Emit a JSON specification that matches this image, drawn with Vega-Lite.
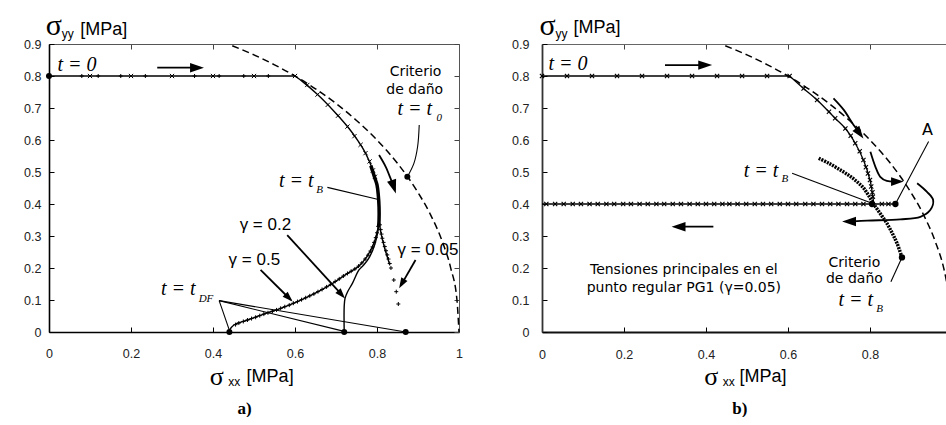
{
  "$schema": "https://vega.github.io/schema/vega-lite/v6.json",
  "background": "white",
  "padding": {"left": 23, "top": 11, "right": 0, "bottom": 0},
  "spacing": 83,
  "bounds": "flush",
  "config": {"view": {"stroke": null}, "axis": {"grid": false, "title": null}},
  "datasets": {
    "a_circle": [{"x":0.447,"y":0.8945},{"x":0.5,"y":0.866},{"x":0.55,"y":0.835},{"x":0.6,"y":0.8},{"x":0.65,"y":0.76},{"x":0.7,"y":0.714},{"x":0.75,"y":0.661},{"x":0.8,"y":0.6},{"x":0.85,"y":0.527},{"x":0.9,"y":0.436},{"x":0.93,"y":0.368},{"x":0.96,"y":0.28},{"x":0.98,"y":0.199},{"x":0.995,"y":0.1},{"x":1.0,"y":0.0}],
    "a_path": [
      {"g":"h","x":0,"y":0.8},{"g":"h","x":0.6,"y":0.8},
      {"g":"top","x":0.6,"y":0.8},{"g":"top","x":0.62,"y":0.781},{"g":"top","x":0.655,"y":0.742},{"g":"top","x":0.695,"y":0.69},{"g":"top","x":0.728,"y":0.642},{"g":"top","x":0.755,"y":0.595},{"g":"top","x":0.772,"y":0.559},{"g":"top","x":0.79,"y":0.505},{"g":"top","x":0.8,"y":0.46},{"g":"top","x":0.804,"y":0.41},{"g":"top","x":0.805,"y":0.35},
      {"g":"g02","x":0.805,"y":0.35},{"g":"g02","x":0.803,"y":0.32},{"g":"g02","x":0.795,"y":0.275},{"g":"g02","x":0.782,"y":0.235},{"g":"g02","x":0.768,"y":0.21},{"g":"g02","x":0.756,"y":0.194},{"g":"g02","x":0.74,"y":0.152},{"g":"g02","x":0.728,"y":0.125},{"g":"g02","x":0.722,"y":0.105},{"g":"g02","x":0.72,"y":0.08},{"g":"g02","x":0.72,"y":0.0},
      {"g":"g05","x":0.805,"y":0.35},{"g":"g05","x":0.8,"y":0.31},{"g":"g05","x":0.79,"y":0.27},{"g":"g05","x":0.775,"y":0.235},{"g":"g05","x":0.755,"y":0.205},{"g":"g05","x":0.728,"y":0.183},{"g":"g05","x":0.687,"y":0.148},{"g":"g05","x":0.646,"y":0.119},{"g":"g05","x":0.606,"y":0.095},{"g":"g05","x":0.565,"y":0.074},{"g":"g05","x":0.524,"y":0.056},{"g":"g05","x":0.484,"y":0.0375},{"g":"g05","x":0.451,"y":0.022},{"g":"g05","x":0.44,"y":0.006},
      {"g":"g005","x":0.805,"y":0.35},{"g":"g005","x":0.808,"y":0.32},{"g":"g005","x":0.813,"y":0.29},{"g":"g005","x":0.819,"y":0.26},{"g":"g005","x":0.825,"y":0.235},{"g":"g005","x":0.831,"y":0.21}
    ],
    "a_thick": [{"x":0.785,"y":0.52},{"x":0.795,"y":0.48},{"x":0.8,"y":0.46},{"x":0.803,"y":0.43},{"x":0.805,"y":0.39},{"x":0.805,"y":0.35},{"x":0.804,"y":0.33}],
    "a_xmk": [{"x":0.1,"y":0.8},{"x":0.2,"y":0.8},{"x":0.3,"y":0.8},{"x":0.4,"y":0.8},{"x":0.5,"y":0.8},{"x":0.6,"y":0.8},{"x":0.63,"y":0.772},{"x":0.655,"y":0.742},{"x":0.68,"y":0.71},{"x":0.705,"y":0.676},{"x":0.728,"y":0.642},{"x":0.745,"y":0.612},{"x":0.76,"y":0.585},{"x":0.772,"y":0.559},{"x":0.782,"y":0.533},{"x":0.79,"y":0.505},{"x":0.795,"y":0.485}],
    "a_pmk": [{"x":0.08,"y":0.8},{"x":0.12,"y":0.8},{"x":0.175,"y":0.8},{"x":0.235,"y":0.8},{"x":0.355,"y":0.8},{"x":0.415,"y":0.8},{"x":0.475,"y":0.8},{"x":0.535,"y":0.8},
      {"x":0.807,"y":0.335},{"x":0.809,"y":0.32},{"x":0.811,"y":0.306},{"x":0.813,"y":0.293},{"x":0.816,"y":0.28},{"x":0.819,"y":0.267},{"x":0.822,"y":0.254},{"x":0.825,"y":0.241},{"x":0.828,"y":0.228},{"x":0.831,"y":0.214},{"x":0.834,"y":0.2},{"x":0.841,"y":0.1625},{"x":0.847,"y":0.126},{"x":0.852,"y":0.0875},
      {"x":0.803,"y":0.33},{"x":0.8,"y":0.31},{"x":0.797,"y":0.295},{"x":0.793,"y":0.28},{"x":0.789,"y":0.266},{"x":0.784,"y":0.253},{"x":0.778,"y":0.24},{"x":0.771,"y":0.228},{"x":0.763,"y":0.216},{"x":0.755,"y":0.206},{"x":0.746,"y":0.197},{"x":0.737,"y":0.19},{"x":0.728,"y":0.183},{"x":0.718,"y":0.175},{"x":0.708,"y":0.166},{"x":0.698,"y":0.158},{"x":0.687,"y":0.149},{"x":0.677,"y":0.141},{"x":0.666,"y":0.133},{"x":0.656,"y":0.126},{"x":0.646,"y":0.119},{"x":0.636,"y":0.113},{"x":0.626,"y":0.107},{"x":0.616,"y":0.101},{"x":0.606,"y":0.095},{"x":0.596,"y":0.09},{"x":0.586,"y":0.084},{"x":0.575,"y":0.079},{"x":0.565,"y":0.074},{"x":0.555,"y":0.069},{"x":0.545,"y":0.065},{"x":0.534,"y":0.06},{"x":0.524,"y":0.056},{"x":0.514,"y":0.051},{"x":0.504,"y":0.046},{"x":0.494,"y":0.042},{"x":0.484,"y":0.0375},{"x":0.474,"y":0.033},{"x":0.463,"y":0.028},{"x":0.455,"y":0.023}],
    "a_dots": [{"x":0,"y":0.8},{"x":0.44,"y":0.0},{"x":0.72,"y":0.0},{"x":0.87,"y":0.0},{"x":0.874,"y":0.485}],
    "a_lead": [
      {"g":"df1","x":0.415,"y":0.098},{"g":"df1","x":0.44,"y":0.005},
      {"g":"df2","x":0.415,"y":0.098},{"g":"df2","x":0.72,"y":0.002},
      {"g":"df3","x":0.415,"y":0.098},{"g":"df3","x":0.87,"y":0.0},
      {"g":"tb","x":0.679,"y":0.452},{"g":"tb","x":0.801,"y":0.415},
      {"g":"crit","x":0.903,"y":0.647},{"g":"crit","x":0.899,"y":0.579},{"g":"crit","x":0.89,"y":0.527},{"g":"crit","x":0.874,"y":0.485}
    ],
    "a_arrow": [
      {"g":"top","x":0.264,"y":0.826},{"g":"top","x":0.36,"y":0.826},
      {"g":"curv","x":0.805,"y":0.553},{"g":"curv","x":0.821,"y":0.517},{"g":"curv","x":0.833,"y":0.48},{"g":"curv","x":0.843,"y":0.445},
      {"g":"g02","x":0.581,"y":0.303},{"g":"g02","x":0.715,"y":0.115},
      {"g":"g05","x":0.516,"y":0.194},{"g":"g05","x":0.59,"y":0.1},
      {"g":"g005","x":0.894,"y":0.225},{"g":"g005","x":0.858,"y":0.145}
    ],
    "a_heads": [{"n":"top","x":0.378,"y":0.826},{"n":"curv","x":0.846,"y":0.433},{"n":"g02","x":0.722,"y":0.105},{"n":"g05","x":0.594,"y":0.095},{"n":"g005","x":0.854,"y":0.137}],
    "a_text": [
      {"role":"math","t":"t = 0","x":0.0205,"y":0.8146},
      {"role":"math","t":"t = t","x":0.561,"y":0.452},
      {"role":"math","t":"t = t","x":0.85,"y":0.678},
      {"role":"math","t":"t = t","x":0.273,"y":0.1156},
      {"role":"sub","t":"B","x":0.652,"y":0.435},
      {"role":"sub","t":"0","x":0.945,"y":0.66},
      {"role":"sub","t":"DF","x":0.365,"y":0.095},
      {"role":"note","t":"Criterio","x":0.894,"y":0.8},
      {"role":"note","t":"de daño","x":0.892,"y":0.743},
      {"role":"gamma","t":"γ = 0.2","x":0.465,"y":0.319},
      {"role":"gamma","t":"γ = 0.5","x":0.438,"y":0.209},
      {"role":"gamma","t":"γ = 0.05","x":0.85,"y":0.24},
      {"role":"sigma","t":"σ","x":-0.008,"y":0.928},
      {"role":"sigx","t":"σ","x":0.392,"y":-0.165},
      {"role":"idx","t":"yy","x":0.031,"y":0.92},
      {"role":"idx","t":"xx","x":0.437,"y":-0.169},
      {"role":"unit","t":"[MPa]","x":0.482,"y":-0.156},
      {"role":"unit","t":"[MPa]","x":0.076,"y":0.927},
      {"role":"cap","t":"a)","x":0.46,"y":-0.255}
    ],
    "b_circle": [{"x":0.447,"y":0.8945},{"x":0.5,"y":0.866},{"x":0.55,"y":0.835},{"x":0.6,"y":0.8},{"x":0.65,"y":0.76},{"x":0.7,"y":0.714},{"x":0.75,"y":0.661},{"x":0.8,"y":0.6},{"x":0.85,"y":0.527},{"x":0.9,"y":0.436},{"x":0.93,"y":0.368},{"x":0.96,"y":0.28},{"x":0.98,"y":0.199},{"x":0.995,"y":0.1}],
    "b_path": [
      {"g":"h8","x":0,"y":0.8},{"g":"h8","x":0.604,"y":0.8},
      {"g":"top","x":0.604,"y":0.8},{"g":"top","x":0.638,"y":0.761},{"g":"top","x":0.671,"y":0.725},{"g":"top","x":0.715,"y":0.668},{"g":"top","x":0.74,"y":0.636},{"g":"top","x":0.764,"y":0.59},{"g":"top","x":0.784,"y":0.5375},{"g":"top","x":0.8,"y":0.475},{"g":"top","x":0.807,"y":0.423},{"g":"top","x":0.809,"y":0.4},
      {"g":"h","x":0,"y":0.4},{"g":"h","x":0.862,"y":0.4}
    ],
    "b_dotted": [{"x":0.675,"y":0.543},{"x":0.7,"y":0.527},{"x":0.728,"y":0.506},{"x":0.75,"y":0.488},{"x":0.768,"y":0.47},{"x":0.783,"y":0.452},{"x":0.795,"y":0.43},{"x":0.809,"y":0.4},{"x":0.825,"y":0.37},{"x":0.841,"y":0.34},{"x":0.855,"y":0.307},{"x":0.866,"y":0.277},{"x":0.878,"y":0.233}],
    "b_xmk": [{"x":0.0,"y":0.8},{"x":0.061,"y":0.8},{"x":0.122,"y":0.8},{"x":0.183,"y":0.8},{"x":0.244,"y":0.8},{"x":0.305,"y":0.8},{"x":0.366,"y":0.8},{"x":0.427,"y":0.8},{"x":0.488,"y":0.8},{"x":0.549,"y":0.8},{"x":0.604,"y":0.8},
      {"x":0.638,"y":0.761},{"x":0.671,"y":0.725},{"x":0.7,"y":0.688},{"x":0.715,"y":0.668},{"x":0.74,"y":0.636},{"x":0.753,"y":0.613},{"x":0.764,"y":0.59},{"x":0.775,"y":0.565},{"x":0.784,"y":0.5375},{"x":0.79,"y":0.515},{"x":0.795,"y":0.495},{"x":0.8,"y":0.475},{"x":0.803,"y":0.455},{"x":0.806,"y":0.437},{"x":0.807,"y":0.423},
      {"x":0.0105,"y":0.4},{"x":0.032,"y":0.4},{"x":0.053,"y":0.4},{"x":0.075,"y":0.4},{"x":0.095,"y":0.4},{"x":0.116,"y":0.4},{"x":0.136,"y":0.4},{"x":0.157,"y":0.4},{"x":0.176,"y":0.4},{"x":0.198,"y":0.4},{"x":0.217,"y":0.4},{"x":0.238,"y":0.4},{"x":0.258,"y":0.4},{"x":0.279,"y":0.4},{"x":0.298,"y":0.4},{"x":0.319,"y":0.4},{"x":0.339,"y":0.4},{"x":0.36,"y":0.4},{"x":0.38,"y":0.4},{"x":0.4,"y":0.4},{"x":0.42,"y":0.4},{"x":0.44,"y":0.4},{"x":0.457,"y":0.4},{"x":0.477,"y":0.4},{"x":0.498,"y":0.4},{"x":0.519,"y":0.4},{"x":0.539,"y":0.4},{"x":0.559,"y":0.4},{"x":0.58,"y":0.4},{"x":0.6,"y":0.4},{"x":0.62,"y":0.4},{"x":0.642,"y":0.4},{"x":0.662,"y":0.4},{"x":0.683,"y":0.4},{"x":0.703,"y":0.4},{"x":0.723,"y":0.4},{"x":0.744,"y":0.4},{"x":0.764,"y":0.4},{"x":0.784,"y":0.4},{"x":0.829,"y":0.4},{"x":0.845,"y":0.4}],
    "b_dots": [{"x":0.805,"y":0.4},{"x":0.862,"y":0.4},{"x":0.878,"y":0.233}],
    "b_lead": [
      {"g":"tb","x":0.61,"y":0.496},{"g":"tb","x":0.805,"y":0.402},
      {"g":"A","x":0.943,"y":0.595},{"g":"A","x":0.862,"y":0.4},
      {"g":"crit","x":0.851,"y":0.157},{"g":"crit","x":0.878,"y":0.233}
    ],
    "b_arrow": [
      {"g":"top","x":0.3,"y":0.834},{"g":"top","x":0.4,"y":0.834},
      {"g":"left","x":0.418,"y":0.329},{"g":"left","x":0.33,"y":0.329},
      {"g":"c1","x":0.711,"y":0.73},{"g":"c1","x":0.736,"y":0.694},{"g":"c1","x":0.76,"y":0.647},{"g":"c1","x":0.775,"y":0.622},
      {"g":"c2","x":0.801,"y":0.563},{"g":"c2","x":0.813,"y":0.517},{"g":"c2","x":0.825,"y":0.485},{"g":"c2","x":0.841,"y":0.472},{"g":"c2","x":0.87,"y":0.47},
      {"g":"big","x":0.915,"y":0.465},{"g":"big","x":0.939,"y":0.438},{"g":"big","x":0.954,"y":0.4125},{"g":"big","x":0.947,"y":0.381},{"g":"big","x":0.923,"y":0.36},{"g":"big","x":0.874,"y":0.352},{"g":"big","x":0.793,"y":0.348},{"g":"big","x":0.75,"y":0.345}
    ],
    "b_heads": [{"n":"top","x":0.415,"y":0.834},{"n":"left","x":0.316,"y":0.329},{"n":"c1","x":0.784,"y":0.605},{"n":"c2","x":0.882,"y":0.47},{"n":"big","x":0.732,"y":0.345}],
    "b_text": [
      {"role":"math","t":"t = 0","x":0.016,"y":0.819},
      {"role":"math","t":"t = t","x":0.492,"y":0.485},
      {"role":"math","t":"t = t","x":0.723,"y":0.081},
      {"role":"sub","t":"B","x":0.584,"y":0.47},
      {"role":"sub","t":"B","x":0.815,"y":0.0625},
      {"role":"note","t":"Criterio","x":0.762,"y":0.202},
      {"role":"note","t":"de daño","x":0.762,"y":0.152},
      {"role":"note","t":"Tensiones principales en el","x":0.346,"y":0.181},
      {"role":"note","t":"punto regular PG1 (γ=0.05)","x":0.346,"y":0.126},
      {"role":"A","t":"A","x":0.927,"y":0.6156},
      {"role":"sigma","t":"σ","x":-0.006,"y":0.928},
      {"role":"sigx","t":"σ","x":0.396,"y":-0.166},
      {"role":"idx","t":"yy","x":0.033,"y":0.92},
      {"role":"idx","t":"xx","x":0.441,"y":-0.17},
      {"role":"unit","t":"[MPa]","x":0.077,"y":0.933},
      {"role":"unit","t":"[MPa]","x":0.482,"y":-0.157},
      {"role":"cap","t":"b)","x":0.464,"y":-0.255}
    ]
  },
  "hconcat": [
    {
      "width": 410,
      "height": 288,
      "resolve": {"axis": {"x": "independent", "y": "independent"}},
      "encoding": {
        "x": {"field": "x", "type": "quantitative", "scale": {"domain": [0, 1]}, "axis": null},
        "y": {"field": "y", "type": "quantitative", "scale": {"domain": [0, 0.9]}, "axis": null}
      },
      "layer": [
        {"data": {"name": "a_dots"}, "mark": {"type": "point", "opacity": 0},
         "encoding": {
           "x": {"field": "x", "type": "quantitative", "scale": {"domain": [0, 1]}, "axis": {"orient": "bottom", "values": [0, 0.2, 0.4, 0.6, 0.8, 1], "format": "~g", "tickSize": -5, "tickColor": "#000", "labelPadding": 20, "domainColor": "#000", "domainWidth": 1.6, "labelFont": "Liberation Sans", "labelFontSize": 12.5, "labelColor": "#222", "labelFlush": false, "labelOverlap": false}},
           "y": {"field": "y", "type": "quantitative", "scale": {"domain": [0, 0.9]}, "axis": {"orient": "left", "values": [0, 0.1, 0.2, 0.3, 0.4, 0.5, 0.6, 0.7, 0.8, 0.9], "format": "~g", "tickSize": -5, "tickColor": "#000", "labelPadding": 13, "domainColor": "#000", "domainWidth": 1.6, "labelFont": "Liberation Sans", "labelFontSize": 12.5, "labelColor": "#222", "labelFlush": false, "labelOverlap": false}}
         }},
        {"data": {"name": "a_dots"}, "mark": {"type": "point", "opacity": 0},
         "encoding": {
           "x": {"field": "x", "type": "quantitative", "scale": {"domain": [0, 1]}, "axis": {"orient": "top", "values": [0, 0.2, 0.4, 0.6, 0.8, 1], "labels": false, "tickSize": -5, "tickColor": "#444", "domainColor": "#555", "domainWidth": 1}},
           "y": {"field": "y", "type": "quantitative", "scale": {"domain": [0, 0.9]}, "axis": {"orient": "right", "values": [0, 0.1, 0.2, 0.3, 0.4, 0.5, 0.6, 0.7, 0.8, 0.9], "labels": false, "tickSize": -5, "tickColor": "#444", "domainColor": "#555", "domainWidth": 1}}
         }},
        {"data": {"name": "a_circle"}, "mark": {"type": "line", "color": "#000", "strokeWidth": 1.5, "strokeDash": [7, 4], "interpolate": "monotone"}, "encoding": {"order": {"value": null}}},
        {"data": {"name": "a_path"}, "mark": {"type": "line", "color": "#000", "strokeWidth": 1.4, "interpolate": "catmull-rom"}, "encoding": {"detail": {"field": "g"}, "order": {"value": null}}},
        {"data": {"name": "a_thick"}, "mark": {"type": "line", "color": "#000", "strokeWidth": 3.5, "interpolate": "catmull-rom"}, "encoding": {"order": {"value": null}}},
        {"data": {"name": "a_xmk"}, "mark": {"type": "point", "shape": "M-1,-1L1,1M-1,1L1,-1", "filled": false, "stroke": "#000", "strokeWidth": 1, "size": 18, "opacity": 1}},
        {"data": {"name": "a_pmk"}, "mark": {"type": "point", "shape": "M-1,0L1,0M0,-1L0,1", "filled": false, "stroke": "#000", "strokeWidth": 1, "size": 16, "opacity": 1}},
        {"data": {"name": "a_lead"}, "mark": {"type": "line", "color": "#000", "strokeWidth": 1.1, "interpolate": "catmull-rom"}, "encoding": {"detail": {"field": "g"}, "order": {"value": null}}},
        {"data": {"name": "a_arrow"}, "mark": {"type": "line", "color": "#000", "strokeWidth": 1.8, "interpolate": "catmull-rom"}, "encoding": {"detail": {"field": "g"}, "order": {"value": null}}},
        {"data": {"name": "a_heads"}, "transform": [{"filter": "datum.n === 'top'"}], "mark": {"type": "point", "shape": "M0,0L-0.75,2.2L0.75,2.2Z", "filled": true, "color": "#000", "opacity": 1, "size": 160, "angle": 90}},
        {"data": {"name": "a_heads"}, "transform": [{"filter": "datum.n === 'curv'"}], "mark": {"type": "point", "shape": "M0,0L-0.75,2.2L0.75,2.2Z", "filled": true, "color": "#000", "opacity": 1, "size": 160, "angle": 162}},
        {"data": {"name": "a_heads"}, "transform": [{"filter": "datum.n === 'g02'"}], "mark": {"type": "point", "shape": "M0,0L-0.75,2.2L0.75,2.2Z", "filled": true, "color": "#000", "opacity": 1, "size": 90, "angle": 138}},
        {"data": {"name": "a_heads"}, "transform": [{"filter": "datum.n === 'g05'"}], "mark": {"type": "point", "shape": "M0,0L-0.75,2.2L0.75,2.2Z", "filled": true, "color": "#000", "opacity": 1, "size": 90, "angle": 135}},
        {"data": {"name": "a_heads"}, "transform": [{"filter": "datum.n === 'g005'"}], "mark": {"type": "point", "shape": "M0,0L-0.75,2.2L0.75,2.2Z", "filled": true, "color": "#000", "opacity": 1, "size": 90, "angle": 210}},
        {"data": {"name": "a_dots"}, "mark": {"type": "point", "shape": "circle", "filled": true, "color": "#000", "opacity": 1, "size": 36}},
        {"data": {"name": "a_text"}, "transform": [{"filter": "datum.role === 'math'"}], "mark": {"type": "text", "font": "Liberation Serif", "fontStyle": "italic", "fontSize": 20, "align": "left", "baseline": "alphabetic", "color": "#000"}, "encoding": {"text": {"field": "t"}}},
        {"data": {"name": "a_text"}, "transform": [{"filter": "datum.role === 'sub'"}], "mark": {"type": "text", "font": "Liberation Serif", "fontStyle": "italic", "fontSize": 11, "align": "left", "baseline": "alphabetic", "color": "#000"}, "encoding": {"text": {"field": "t"}}},
        {"data": {"name": "a_text"}, "transform": [{"filter": "datum.role === 'note'"}], "mark": {"type": "text", "font": "DejaVu Sans", "fontSize": 14, "align": "center", "baseline": "alphabetic", "color": "#000"}, "encoding": {"text": {"field": "t"}}},
        {"data": {"name": "a_text"}, "transform": [{"filter": "datum.role === 'gamma'"}], "mark": {"type": "text", "font": "Liberation Sans", "fontSize": 17, "align": "left", "baseline": "alphabetic", "color": "#000"}, "encoding": {"text": {"field": "t"}}},
        {"data": {"name": "a_text"}, "transform": [{"filter": "datum.role === 'sigma'"}], "mark": {"type": "text", "font": "Liberation Serif", "fontSize": 30, "align": "left", "baseline": "alphabetic", "color": "#000"}, "encoding": {"text": {"field": "t"}}},
        {"data": {"name": "a_text"}, "transform": [{"filter": "datum.role === 'sigx'"}], "mark": {"type": "text", "font": "Liberation Serif", "fontSize": 26, "align": "left", "baseline": "alphabetic", "color": "#000"}, "encoding": {"text": {"field": "t"}}},
        {"data": {"name": "a_text"}, "transform": [{"filter": "datum.role === 'idx'"}], "mark": {"type": "text", "font": "Liberation Sans", "fontSize": 12, "align": "left", "baseline": "alphabetic", "color": "#000"}, "encoding": {"text": {"field": "t"}}},
        {"data": {"name": "a_text"}, "transform": [{"filter": "datum.role === 'unit'"}], "mark": {"type": "text", "font": "Liberation Sans", "fontSize": 18, "align": "left", "baseline": "alphabetic", "color": "#000"}, "encoding": {"text": {"field": "t"}}},
        {"data": {"name": "a_text"}, "transform": [{"filter": "datum.role === 'cap'"}], "mark": {"type": "text", "font": "Liberation Serif", "fontWeight": "bold", "fontSize": 17, "align": "left", "baseline": "alphabetic", "color": "#000"}, "encoding": {"text": {"field": "t"}}}
      ]
    },
    {
      "width": 404,
      "height": 288,
      "resolve": {"axis": {"x": "independent", "y": "independent"}},
      "encoding": {
        "x": {"field": "x", "type": "quantitative", "scale": {"domain": [0, 0.9854]}, "axis": null},
        "y": {"field": "y", "type": "quantitative", "scale": {"domain": [0, 0.9]}, "axis": null}
      },
      "layer": [
        {"data": {"name": "b_dots"}, "mark": {"type": "point", "opacity": 0},
         "encoding": {
           "x": {"field": "x", "type": "quantitative", "scale": {"domain": [0, 0.9854]}, "axis": {"orient": "bottom", "values": [0, 0.2, 0.4, 0.6, 0.8], "format": "~g", "tickSize": -5, "tickColor": "#000", "labelPadding": 21, "domainColor": "#111", "domainWidth": 1.8, "labelFont": "Liberation Sans", "labelFontSize": 12.5, "labelColor": "#222", "labelFlush": false, "labelOverlap": false}},
           "y": {"field": "y", "type": "quantitative", "scale": {"domain": [0, 0.9]}, "axis": {"orient": "left", "values": [0, 0.1, 0.2, 0.3, 0.4, 0.5, 0.6, 0.7, 0.8, 0.9], "format": "~g", "tickSize": -5, "tickColor": "#000", "labelPadding": 18, "domainColor": "#333", "domainWidth": 1.8, "labelFont": "Liberation Sans", "labelFontSize": 12.5, "labelColor": "#222", "labelFlush": false, "labelOverlap": false}}
         }},
        {"data": {"name": "b_dots"}, "mark": {"type": "point", "opacity": 0},
         "encoding": {
           "x": {"field": "x", "type": "quantitative", "scale": {"domain": [0, 0.9854]}, "axis": {"orient": "top", "values": [0, 0.2, 0.4, 0.6, 0.8], "labels": false, "tickSize": -5, "tickColor": "#444", "domainColor": "#666", "domainWidth": 1}},
           "y": {"field": "y", "type": "quantitative", "scale": {"domain": [0, 0.9]}, "axis": null}
         }},
        {"data": {"name": "b_circle"}, "mark": {"type": "line", "color": "#000", "strokeWidth": 1.5, "strokeDash": [7, 4], "interpolate": "monotone", "clip": true}, "encoding": {"order": {"value": null}}},
        {"data": {"name": "b_path"}, "mark": {"type": "line", "color": "#000", "strokeWidth": 1.3, "interpolate": "catmull-rom"}, "encoding": {"detail": {"field": "g"}, "order": {"value": null}}},
        {"data": {"name": "b_dotted"}, "mark": {"type": "line", "color": "#000", "strokeWidth": 3.5, "strokeDash": [2, 1], "interpolate": "catmull-rom"}, "encoding": {"order": {"value": null}}},
        {"data": {"name": "b_xmk"}, "mark": {"type": "point", "shape": "M-1,-1L1,1M-1,1L1,-1", "filled": false, "stroke": "#000", "strokeWidth": 1.1, "size": 18, "opacity": 1}},
        {"data": {"name": "b_lead"}, "mark": {"type": "line", "color": "#000", "strokeWidth": 1.1}, "encoding": {"detail": {"field": "g"}, "order": {"value": null}}},
        {"data": {"name": "b_arrow"}, "mark": {"type": "line", "color": "#000", "strokeWidth": 1.8, "interpolate": "catmull-rom"}, "encoding": {"detail": {"field": "g"}, "order": {"value": null}}},
        {"data": {"name": "b_heads"}, "transform": [{"filter": "datum.n === 'top'"}], "mark": {"type": "point", "shape": "M0,0L-0.75,2.2L0.75,2.2Z", "filled": true, "color": "#000", "opacity": 1, "size": 160, "angle": 90}},
        {"data": {"name": "b_heads"}, "transform": [{"filter": "datum.n === 'left'"}], "mark": {"type": "point", "shape": "M0,0L-0.75,2.2L0.75,2.2Z", "filled": true, "color": "#000", "opacity": 1, "size": 160, "angle": 270}},
        {"data": {"name": "b_heads"}, "transform": [{"filter": "datum.n === 'c1'"}], "mark": {"type": "point", "shape": "M0,0L-0.75,2.2L0.75,2.2Z", "filled": true, "color": "#000", "opacity": 1, "size": 130, "angle": 143}},
        {"data": {"name": "b_heads"}, "transform": [{"filter": "datum.n === 'c2'"}], "mark": {"type": "point", "shape": "M0,0L-0.75,2.2L0.75,2.2Z", "filled": true, "color": "#000", "opacity": 1, "size": 130, "angle": 90}},
        {"data": {"name": "b_heads"}, "transform": [{"filter": "datum.n === 'big'"}], "mark": {"type": "point", "shape": "M0,0L-0.75,2.2L0.75,2.2Z", "filled": true, "color": "#000", "opacity": 1, "size": 160, "angle": 270}},
        {"data": {"name": "b_dots"}, "mark": {"type": "point", "shape": "circle", "filled": true, "color": "#000", "opacity": 1, "size": 40}},
        {"data": {"name": "b_text"}, "transform": [{"filter": "datum.role === 'math'"}], "mark": {"type": "text", "font": "Liberation Serif", "fontStyle": "italic", "fontSize": 20, "align": "left", "baseline": "alphabetic", "color": "#000"}, "encoding": {"text": {"field": "t"}}},
        {"data": {"name": "b_text"}, "transform": [{"filter": "datum.role === 'sub'"}], "mark": {"type": "text", "font": "Liberation Serif", "fontStyle": "italic", "fontSize": 11, "align": "left", "baseline": "alphabetic", "color": "#000"}, "encoding": {"text": {"field": "t"}}},
        {"data": {"name": "b_text"}, "transform": [{"filter": "datum.role === 'note'"}], "mark": {"type": "text", "font": "DejaVu Sans", "fontSize": 14, "align": "center", "baseline": "alphabetic", "color": "#000"}, "encoding": {"text": {"field": "t"}}},
        {"data": {"name": "b_text"}, "transform": [{"filter": "datum.role === 'A'"}], "mark": {"type": "text", "font": "DejaVu Sans", "fontSize": 16, "align": "left", "baseline": "alphabetic", "color": "#000"}, "encoding": {"text": {"field": "t"}}},
        {"data": {"name": "b_text"}, "transform": [{"filter": "datum.role === 'sigma'"}], "mark": {"type": "text", "font": "Liberation Serif", "fontSize": 30, "align": "left", "baseline": "alphabetic", "color": "#000"}, "encoding": {"text": {"field": "t"}}},
        {"data": {"name": "b_text"}, "transform": [{"filter": "datum.role === 'sigx'"}], "mark": {"type": "text", "font": "Liberation Serif", "fontSize": 26, "align": "left", "baseline": "alphabetic", "color": "#000"}, "encoding": {"text": {"field": "t"}}},
        {"data": {"name": "b_text"}, "transform": [{"filter": "datum.role === 'idx'"}], "mark": {"type": "text", "font": "Liberation Sans", "fontSize": 12, "align": "left", "baseline": "alphabetic", "color": "#000"}, "encoding": {"text": {"field": "t"}}},
        {"data": {"name": "b_text"}, "transform": [{"filter": "datum.role === 'unit'"}], "mark": {"type": "text", "font": "Liberation Sans", "fontSize": 18, "align": "left", "baseline": "alphabetic", "color": "#000"}, "encoding": {"text": {"field": "t"}}},
        {"data": {"name": "b_text"}, "transform": [{"filter": "datum.role === 'cap'"}], "mark": {"type": "text", "font": "Liberation Serif", "fontWeight": "bold", "fontSize": 17, "align": "left", "baseline": "alphabetic", "color": "#000"}, "encoding": {"text": {"field": "t"}}}
      ]
    }
  ]
}
